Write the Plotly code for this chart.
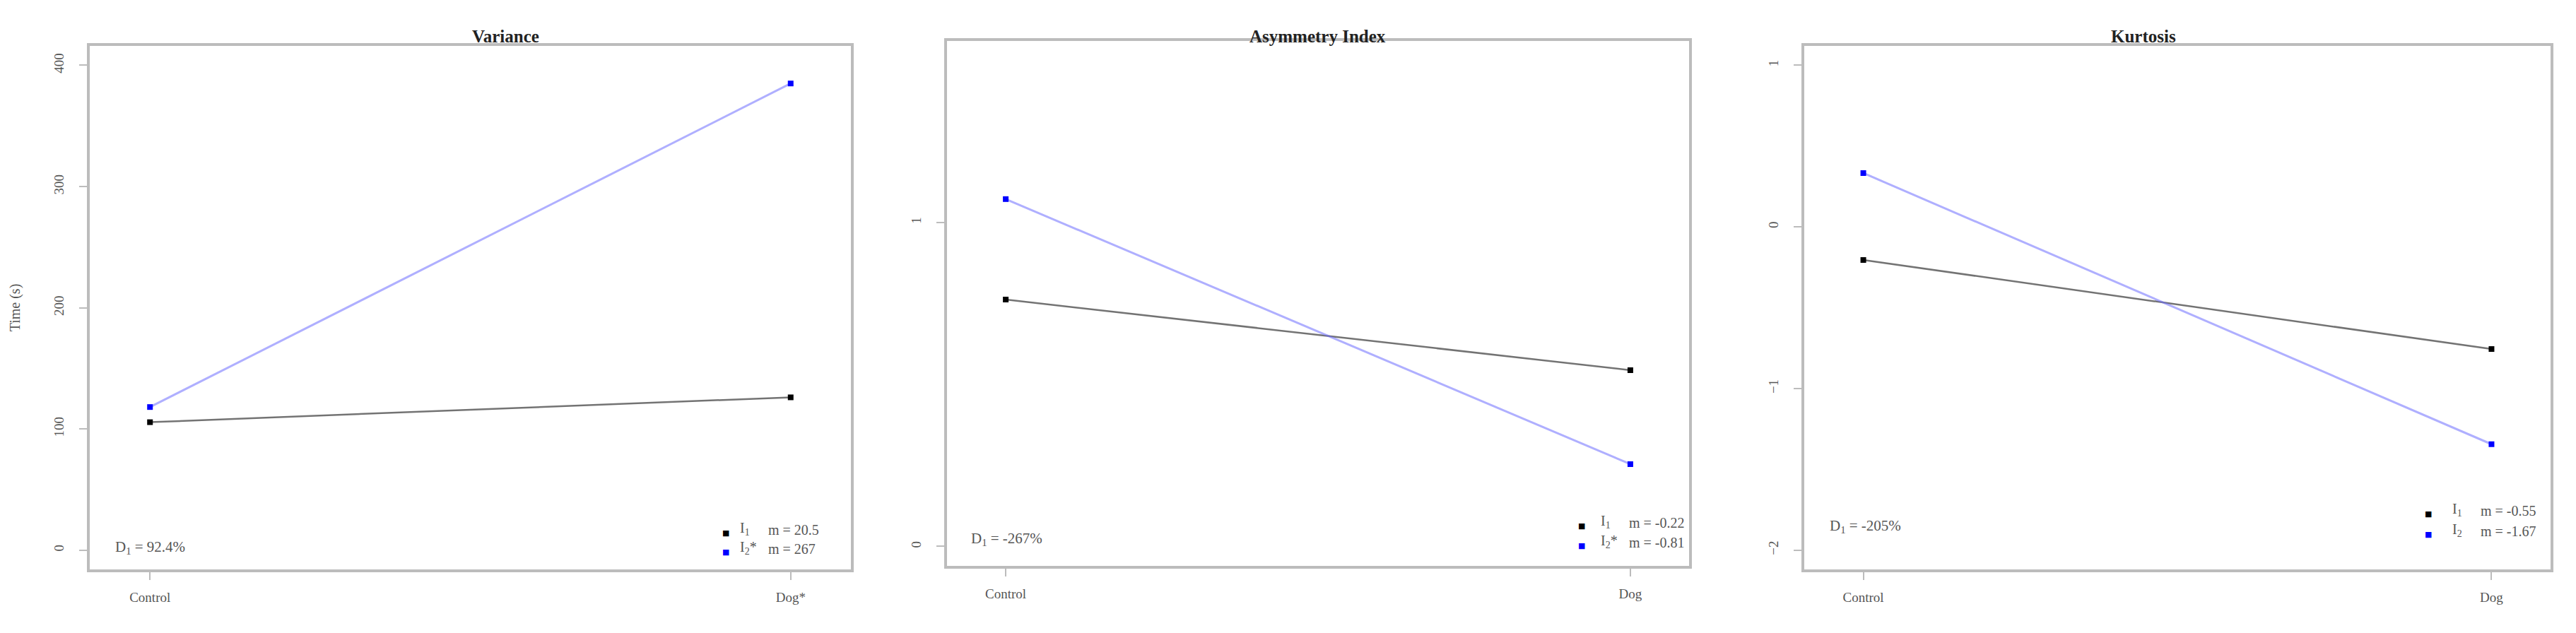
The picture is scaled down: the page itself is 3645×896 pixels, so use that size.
import plotly.graph_objects as go

W, H = 3645, 896

groups = ["Control", "Dog"]
panel_titles = ["Variance", "Asymmetry Index", "Kurtosis"]
x_labels = [["Control", "Dog*"], ["Control", "Dog"], ["Control", "Dog"]]

# values per panel: series I1 (black) and I2 (blue)
variance_i1 = [105.5, 126.0]
variance_i2 = [118.0, 385.0]
asym_i1 = [0.762, 0.544]
asym_i2 = [1.072, 0.254]
kurt_i1 = [-0.205, -0.756]
kurt_i2 = [0.333, -1.345]

series_names = [["I<sub>1</sub>", "I<sub>2</sub>*"],
                ["I<sub>1</sub>", "I<sub>2</sub>*"],
                ["I<sub>1</sub>", "I<sub>2</sub>"]]
slopes = [["m = 20.5", "m = 267"],
          ["m = -0.22", "m = -0.81"],
          ["m = -0.55", "m = -1.67"]]
d_labels = ["D<sub>1</sub> = 92.4%", "D<sub>1</sub> = -267%", "D<sub>1</sub> = -205%"]

y_ticks = [[0, 100, 200, 300, 400], [0, 1], [-2, -1, 0, 1]]
y_ranges = [[-16, 416], [-0.06, 1.56], [-2.12, 1.12]]

values = [(variance_i1, variance_i2), (asym_i1, asym_i2), (kurt_i1, kurt_i2)]

# plot boxes in pixels: left, right, top, bottom
boxes = [(119, 1196, 57, 798), (1332, 2382, 50, 793), (2545, 3601, 57, 798)]
# legend anchors (marker x, row1 y, row2 y) and D label position
legend_pos = [(1022, 755, 782), (2240, 745, 773), (3445, 728, 757)]
d_pos = [(153, 782), (1364, 770), (2579, 752)]


def px(x):
    return x / W


def py(y):
    return 1 - y / H


FONT = "Liberation Serif"
AXIS_GREY = "#bcbcbc"
TEXT_GREY = "#555555"

fig = go.Figure()
annotations = []

for i in range(3):
    l, r, t, b = boxes[i]
    suffix = "" if i == 0 else str(i + 1)
    xa, ya = "x" + suffix, "y" + suffix
    s1, s2 = values[i]

    fig.add_trace(go.Scatter(
        x=[1, 2], y=s1, xaxis=xa, yaxis=ya, mode="lines+markers",
        line=dict(color="rgba(0,0,0,0.55)", width=2.5),
        marker=dict(symbol="square", size=8, color="black"),
        showlegend=False, hoverinfo="skip"))
    fig.add_trace(go.Scatter(
        x=[1, 2], y=s2, xaxis=xa, yaxis=ya, mode="lines+markers",
        line=dict(color="rgba(110,110,255,0.55)", width=3),
        marker=dict(symbol="square", size=8, color="blue"),
        showlegend=False, hoverinfo="skip"))

    axis_common = dict(
        showline=True, mirror=True, linecolor=AXIS_GREY, linewidth=4,
        showgrid=False, zeroline=False, ticks="outside", ticklen=11,
        tickwidth=2, tickcolor=AXIS_GREY,
        tickfont=dict(family=FONT, size=19, color=TEXT_GREY))
    fig.update_layout({
        "xaxis" + suffix: dict(
            axis_common, domain=[px(l), px(r)], range=[0.906, 2.094],
            tickvals=[1, 2], ticktext=x_labels[i], ticklabelstandoff=8,
            anchor=ya),
        "yaxis" + suffix: dict(
            axis_common, domain=[py(b), py(t)], range=y_ranges[i],
            tickvals=y_ticks[i], tickangle=-90, ticklabelstandoff=14,
            anchor=xa),
    })

    # panel title
    annotations.append(dict(
        x=px((l + r) / 2), y=py(28), xref="paper", yref="paper",
        text="<b>" + panel_titles[i] + "</b>", showarrow=False,
        font=dict(family=FONT, size=25, color="#222222")))

    # legend (bottom right)
    mx, y1, y2 = legend_pos[i]
    for row, (yy, col) in enumerate([(y1, "black"), (y2, "blue")]):
        annotations.append(dict(
            x=px(mx - 10), y=py(yy), xref="paper", yref="paper",
            text="■", showarrow=False,
            font=dict(family="DejaVu Sans", size=11, color=col)))
        annotations.append(dict(
            x=px(mx + 15), y=py(yy), xref="paper", yref="paper",
            xanchor="left", text=series_names[i][row], showarrow=False,
            font=dict(family=FONT, size=20, color=TEXT_GREY)))
        annotations.append(dict(
            x=px(mx + 55), y=py(yy), xref="paper", yref="paper",
            xanchor="left", text=slopes[i][row], showarrow=False,
            font=dict(family=FONT, size=20, color=TEXT_GREY)))

    dx, dy = d_pos[i]
    annotations.append(dict(
        x=px(dx), y=py(dy), xref="paper", yref="paper", xanchor="left",
        text=d_labels[i], showarrow=False,
        font=dict(family=FONT, size=21, color=TEXT_GREY)))

fig.update_layout(
    yaxis_title=dict(text="Time (s)", standoff=40,
                     font=dict(family=FONT, size=20, color=TEXT_GREY)),
    width=W, height=H,
    margin=dict(l=0, r=0, t=0, b=0),
    paper_bgcolor="white", plot_bgcolor="white",
    annotations=annotations,
    showlegend=False,
)

fig.write_html("out.html")
